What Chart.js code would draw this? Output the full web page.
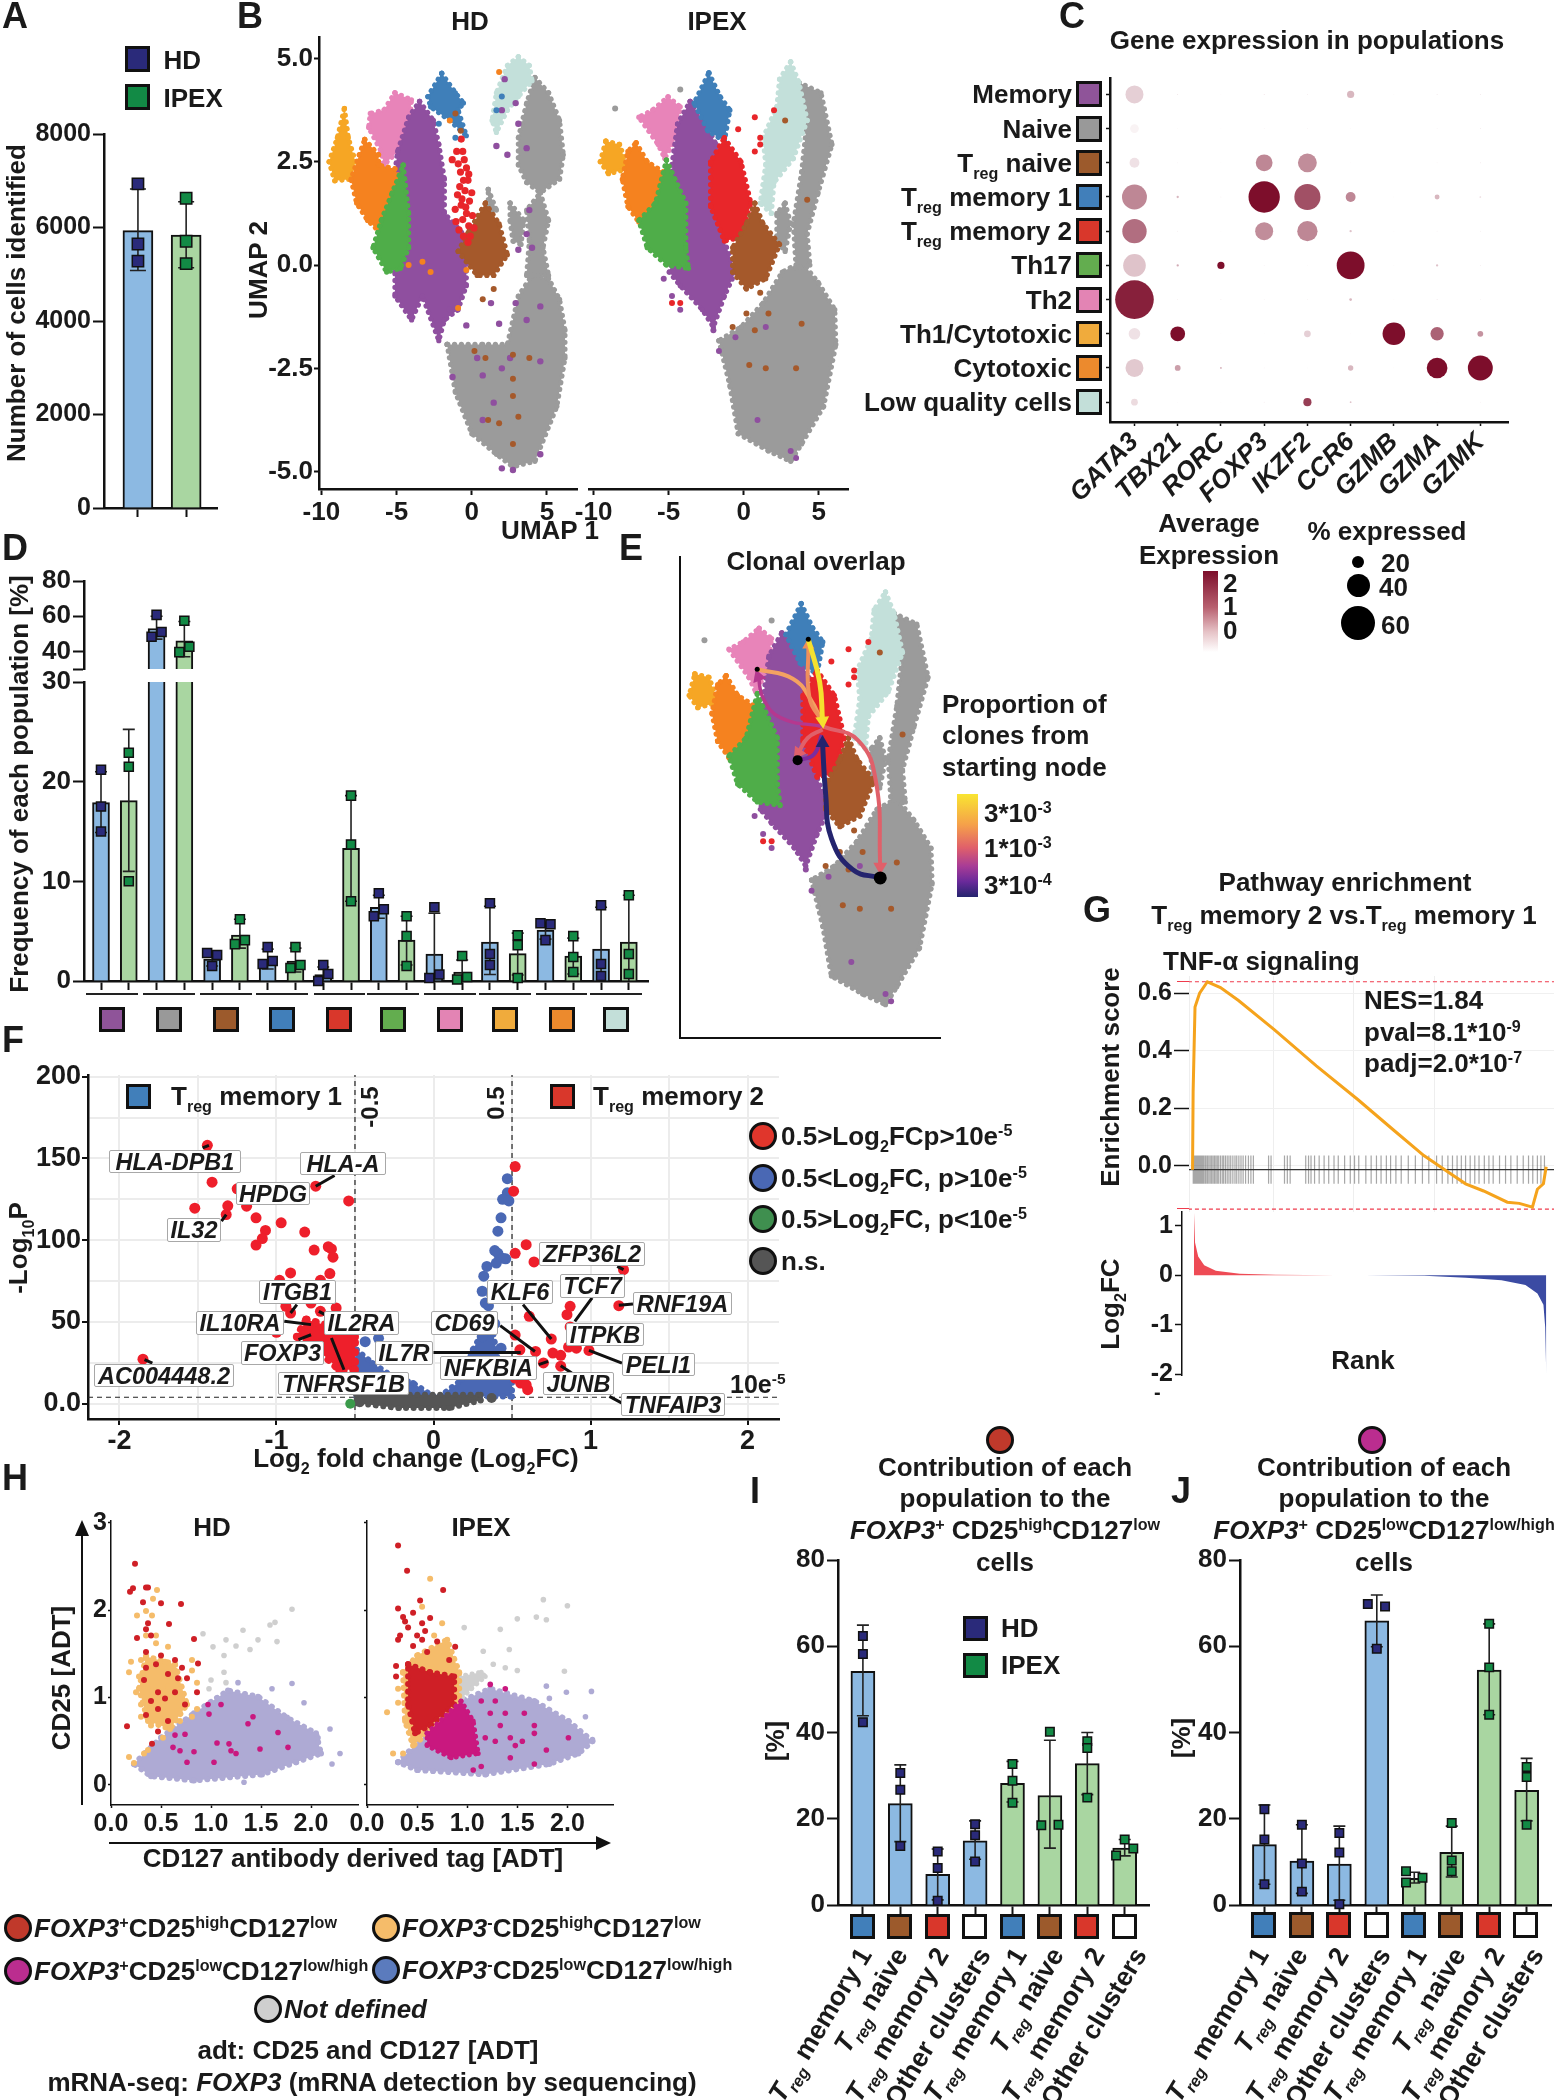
<!DOCTYPE html>
<html>
<head>
<meta charset="utf-8">
<title>Figure</title>
<script src="https://cdn.jsdelivr.net/npm/chart.js"></script>
<style>
body { margin: 0; background: #fff; }
#page { position: relative; width: 1554px; height: 2100px; overflow: hidden; font-family: "Liberation Sans", Arial, sans-serif; font-weight: bold; color: #1a1a1a; }
.t { position: absolute; white-space: nowrap; z-index: 5; line-height: 1; }
.box { position: absolute; box-sizing: border-box; z-index: 4; }
sub { font-size: .62em; vertical-align: -.42em; line-height: 0; }
sup { font-size: .62em; vertical-align: .55em; line-height: 0; }
canvas { position: absolute; }
</style>
</head>
<body>
<div id="page"></div>
<script>
// ---- colours
const C_HD = "#2a2a7a", C_IPEX = "#128a45", C_HDBAR = "#8cb9e2", C_IPEXBAR = "#a9d6a1";
const POP = { memory: "#8f4f9f", naive: "#9b9b9b", tnaive: "#a5592b", tm1: "#3f7fb9", tm2: "#e8262a", th17: "#4fad49", th2: "#e884b9", th1: "#f6a624", cyto: "#f5821f", low: "#c3e0da" };
const SQ = { memory: "#8f5499", naive: "#999999", tnaive: "#9c5a2c", tm1: "#417fba", tm2: "#d9372b", th17: "#63ad4f", th2: "#e384b4", th1: "#f0ab3c", cyto: "#ec8a2d", low: "#c3dfd9", other: "#ffffff" };

// ---- panel A
const aMeans = [5934, 5838];
const aHi = [6824, 6551];
const aLo = [5081, 5140];
const aPts = [[[6934, 0], [5647, 0], [5279, 0]], [[6625, 0], [5706, 0], [5228, 0]]];

// ---- panel D (HD, IPEX alternating for the ten populations)
const dMeans = [17.9, 18.1, 53, 46, 2.2, 4.6, 2.1, 2, 0.65, 13.3, 7.4, 4.1, 2.7, 0.9, 3.9, 2.75, 5.1, 2.5, 3.2, 3.9];
const dHi = [21, 25.25, 60, 57, 2.9, 6.2, 3.2, 3.3, 1.4, 18.6, 8.6, 6.5, 6.8, 2.1, 7.5, 4.8, 5.9, 4.3, 7.4, 8.6];
const dLo = [14.9, 11, 47, 37, 1.5, 3.3, 1.2, 0.9, -0.1, 8, 6.3, 1.6, -1, -0.3, 0.65, 0.6, 4.2, 0.7, -1, -0.8];
const dPts = [
  [[21.2, 0], [17.5, 0], [15, 0]], [[22.9, 0], [21.5, 0], [10, 0]],
  [[60.75, 0], [51, 0.18], [48.3, -0.18]], [[57.4, 0], [42.6, 0.18], [39.6, -0.18]],
  [[2.8, -0.18], [2.6, 0.18], [1.5, 0]], [[6.2, 0], [4.1, 0.18], [3.7, -0.18]],
  [[3.4, 0], [2, 0.18], [1.7, -0.18]], [[3.4, 0], [1.6, 0.18], [1.3, -0.18]],
  [[1.6, 0], [0.7, 0.18], [0, -0.18]], [[18.6, 0], [13.7, 0], [8, 0]],
  [[8.8, 0], [7.2, 0.18], [6.5, -0.18]], [[6.5, 0], [4.5, 0], [1.5, 0]],
  [[7.4, 0], [0.65, 0.18], [0.3, -0.18]], [[2.5, 0], [0.4, 0.18], [0.15, -0.18]],
  [[7.8, 0], [2.7, 0], [1.6, 0]], [[4.6, 0], [3.6, 0], [0.3, 0]],
  [[5.8, -0.18], [5.7, 0.18], [4.1, 0]], [[4.5, 0], [2.4, 0], [0.9, 0]],
  [[7.6, 0], [1.7, 0], [0.5, 0]], [[8.6, 0], [2.7, 0], [0.7, 0]]
];
const dSquares = ["memory", "naive", "tnaive", "tm1", "tm2", "th17", "th2", "th1", "cyto", "low"];

// ---- panels I and J
const iMeans = [54.2, 23.5, 7.1, 14.9, 28.2, 25.4, 32.8, 13.2];
const iHi = [64.9, 32.5, 13, 19.5, 33.3, 38.2, 40, 15.2];
const iLo = [43.9, 14.7, 1.2, 10.6, 23.9, 13.2, 25.6, 11.4];
const iPts = [
  [[62.4, 0], [58.2, 0], [42.4, 0]], [[30.6, 0], [26.7, 0], [13.7, 0]], [[12.4, 0], [8.6, 0], [1, 0]], [[18.7, 0], [16.2, 0], [10.1, 0]],
  [[32.7, 0], [28.8, 0], [23.7, 0]], [[40.2, 0], [18.5, -0.23], [18.6, 0.23]], [[38, 0], [36.4, 0], [24.9, 0]], [[15.2, 0], [13.1, 0.23], [11.5, -0.23]]
];
const jMeans = [14, 10.2, 9.5, 65.9, 6.2, 12.2, 54.5, 26.6];
const jHi = [23.2, 18.6, 18.3, 71.9, 7.6, 18.3, 65.2, 34];
const jLo = [4.8, 2.7, 1.1, 59.9, 5.1, 6.5, 44.1, 19.5];
const jPts = [
  [[22.2, 0], [15.2, 0], [4.8, 0]], [[18.6, 0], [9.6, 0], [3.1, 0]], [[16.7, 0], [12.2, 0], [0.2, 0]], [[69.8, -0.24], [69.2, 0.22], [59.4, 0]],
  [[7.8, -0.22], [5.2, -0.22], [6.3, 0.22]], [[19, 0], [10.3, 0], [7.8, 0]], [[65.2, 0], [55.1, 0], [44.1, 0]], [[32, 0], [29.7, 0], [18.6, 0]]
];
const ijSquares = ["tm1", "tnaive", "tm2", "other", "tm1", "tnaive", "tm2", "other"];

// ---- panel C
const genes = ["GATA3", "TBX21", "RORC", "FOXP3", "IKZF2", "CCR6", "GZMB", "GZMA", "GZMK"];
const rowKeys = ["memory", "naive", "tnaive", "tm1", "tm2", "th17", "th2", "th1", "cyto", "low"];
const rowNames = ["Memory", "Naive", "T<sub>reg</sub> naive", "T<sub>reg</sub> memory 1", "T<sub>reg</sub> memory 2", "Th17", "Th2", "Th1/Cytotoxic", "Cytotoxic", "Low quality cells"];
const pctExpressed = [
  [31, 1, .5, 1, 1, 12.4, .2, 1, 1],
  [15, .3, .3, .5, .8, .3, 0, .5, 1],
  [17, .7, .3, 29, 32.5, .5, 0, .3, 1],
  [43, 4, .7, 54, 45, 17, .2, 8.5, 3],
  [42, .8, .3, 31, 35, 4, .3, .5, .8],
  [39, 4, 12.4, 1, .5, 48, .3, 4, 1],
  [66.6, 1, 1, 1, 1.5, 4.6, .3, 1.5, .8],
  [20, 25.5, .3, .3, 11.6, .3, 39, 23, 10],
  [31, 10, 3, 1, 1, 9.3, .3, 35.6, 43],
  [11.6, .3, .3, 1, 14, 3, 0, .3, .5]
];
const avgExpression = [
  [.4, .5, .1, .5, .3, .6, .1, .4, .4],
  [.1, .1, .1, .2, .2, .1, 0, .2, .4],
  [.25, .2, .1, 1, .95, .1, 0, .2, .4],
  [1, .6, .2, 2, 1.45, 1, .1, .6, .3],
  [1.2, .3, .1, .95, 1, .5, .1, .2, .3],
  [.5, .7, 2, .2, .1, 2, .1, .5, .3],
  [1.85, .3, .3, .2, .2, .6, .1, .4, .2],
  [.25, 2, .1, .1, .4, .1, 2, 1.3, .9],
  [.45, .8, .7, .2, .1, .6, .1, 2, 2],
  [.3, .1, .1, .3, 1.6, .5, 0, .1, .2]
];

// ---- panel B, outlines of the clusters (UMAP units)
const hdNaiveLow = [[-1.64, -1.92], [-1.09, -3.08], [0, -4.08], [1.64, -4.58], [2.74, -4.88], [4.2, -4.75], [5.66, -3.42], [6.2, -2.25], [6.2, -1.58], [5.84, -.83], [5.11, -.33], [4.01, -.25], [3.1, -.75], [2.37, -1.92], [.73, -1.92]];
const hdNaiveUp = [[4.2, 4.54], [5.11, 4.17], [5.84, 3.5], [6.09, 2.67], [5.84, 2.08], [4.56, 1.75], [3.65, 2], [3.1, 2.42], [3.1, 3.08], [3.65, 3.92]];
const hdNaiveMid = [[4.56, 1.75], [5.11, 1.08], [4.74, .42], [5.11, -.25], [3.65, -.25], [3.83, .58], [3.65, 1.33]];
const hdNaiveMid2 = [[2.55, 1.5], [3.47, 1.08], [3.28, .5], [2.74, .58], [2.55, 1.08]];
const hdNaiveMid3 = [[1.1, 1.83], [1.64, 1.33], [1.1, 1.2]];
const hdLow = [[3.1, 5.04], [3.83, 4.83], [4.01, 4.46], [3.1, 4.08], [2.37, 3.75], [1.64, 3.21], [1.35, 3.5], [1.64, 4.17], [2.37, 4.83]];
const hdBlue = [[-2, 4.64], [-1.09, 4.17], [-.55, 3.92], [-.91, 3.75], [-.36, 3.13], [-1.46, 3.5], [-2.74, 3.83], [-2.92, 4.08]];
const hdPink = [[-5.11, 4.17], [-4.01, 4], [-4.2, 3.08], [-4.93, 2.75], [-5.84, 2.42], [-6.02, 2.75], [-6.86, 3.33], [-6.75, 3.67], [-5.84, 3.75]];
const hdPurple = [[-3.47, 3.96], [-2.55, 3.5], [-2.19, 2.92], [-1.82, 2.08], [-1.82, 1.25], [-.36, .67], [-.36, -.5], [-.91, -1.08], [-1.82, -1.33], [-2.19, -1.83], [-3.28, -.75], [-4, -1.33], [-5.11, -.75], [-5.11, -.17], [-4.2, .42], [-5.11, 2.25], [-4.93, 2.75], [-4.2, 3.58]];
const hdOrange = [[-7.12, 3.04], [-6.2, 2.67], [-6.2, 2.42], [-5.11, 2.33], [-4.56, 1.92], [-5.47, 1.42], [-6.2, .83], [-6.93, 1.08], [-7.66, 1.5], [-8.03, 2.08], [-7.48, 2.67]];
const hdYellow = [[-8.47, 3.79], [-8.21, 3.08], [-7.74, 2.5], [-8.03, 2.08], [-9.12, 2.04], [-9.49, 2.5], [-8.94, 3.08]];
const hdGreen = [[-4.56, 2.42], [-4.2, 1.25], [-4.2, .42], [-4.74, -.08], [-5.66, -.17], [-6.57, .42], [-6.02, 1.08], [-5.29, 1.75]];
const hdBrown = [[.91, 1.5], [1.82, 1], [2.37, .25], [1.46, -.25], [.36, -.25], [-.91, .33], [-.18, .83]];
const hdRedDots = [[-1, 2.75], [-.6, 2.75], [-1.3, 2.55], [-.9, 2.45], [-.5, 2.55], [-.75, 2.25], [-.35, 2.35], [-.55, 2.05], [-.25, 2.05], [-.8, 1.9], [-.95, 1.7], [-.45, 1.8], [0, 1.75], [-.15, 1.55], [-.7, 1.45], [-1.1, 1.35], [-.35, 1.25], [.05, 1.2], [-.6, 1.1], [-1.05, 1.05], [-.2, .95], [.15, .9], [-.55, .7], [-.25, .55], [-.85, .85], [-.1, .7], [-.65, 1.6], [-.2, 2.2], [-.7, 3.05], [-.4, 1.4]];
const hdPurpleDots = [[-1.46, -1.08], [-.36, -1.46], [1.28, -.92], [1.82, -1.42], [2.92, -.92], [3.65, -1.33], [4.56, -1], [4.56, -2.33], [2.55, -2.25], [.36, -2.25], [.73, -2.67], [2, -2.5], [1.46, -3.33], [.73, -3.75], [2, -4.92], [2.74, -4.96], [4.56, -4.58], [-1.28, -2.71], [3.65, .75], [4.01, .42], [3.83, 1.33], [3.1, .37], [1.64, 2.88], [2.37, 2.67], [3.65, 2.83], [2.19, 4.5], [2.92, 3.92], [3.1, 3.42], [2, 3.75]];
const hdBrownDots = [[.18, -2.08], [.91, -2.25], [2.74, -2.17], [2.74, -2.75], [2.74, -3.17], [1.09, -3.75], [1.82, -3.83], [2.74, -4.33], [3.1, -3.67], [3.83, -2.25], [1.46, -.58], [.73, -.83], [-.73, 3.25], [-1.09, 3.67]];
const hdOrangeDots = [[-3.28, .08], [-4.2, 0], [-2.74, -.17], [-.36, -.12], [-.91, -1.04], [1.82, 4.67], [-1.46, 3.5]];
const hdBlueDots = [[1.64, 3.75], [2, 4.08], [-2.19, 3.42], [-1.09, 3.08]];

const ipNaiveLow = [[-1.65, -1.83], [-.92, -2.92], [-.37, -4.08], [1.65, -4.5], [3.13, -4.75], [3.86, -4.33], [5.33, -3.42], [6.14, -1.92], [6.07, -1.08], [4.96, -.42], [3.86, .08], [2.57, -.17], [1.29, -.92], [-.18, -1.5]];
const ipNaiveUp = [[3.68, 4.42], [5.15, 4.17], [5.88, 2.92], [4.96, 1.75], [4.23, .75], [4.41, 0], [3.49, -.08], [3.31, 1], [3.86, 2.25], [4.23, 3.5]];
const ipNaiveMid = [[2.76, 1.5], [3.13, 1], [2.76, .33], [2.21, .58], [2.21, 1.25]];
const ipLow = [[3.13, 4.92], [3.68, 4.42], [4.23, 3.5], [3.31, 2.58], [2.02, 2], [1.84, 1.25], [1.1, 1.5], [1.47, 2.42], [1.29, 3.08], [2.21, 3.83], [2.39, 4.5]];
const ipBlue = [[-2.32, 4.65], [-1.58, 4.08], [-.92, 3.75], [-1.29, 3], [-2.39, 3.25], [-3.31, 3.92]];
const ipPink = [[-5.04, 4.07], [-4.23, 3.83], [-4.52, 3.08], [-5.26, 2.58], [-5.7, 2.92], [-6.99, 3.58], [-6.07, 3.75]];
const ipPurple = [[-3.57, 3.96], [-2.39, 3.33], [-1.84, 2.92], [-2.21, 1.42], [-1.29, .58], [-.55, -.17], [-1.29, -.75], [-2.02, -1.5], [-2.76, -1.08], [-4.23, -.5], [-4.96, -.17], [-4.41, .58], [-4.78, 2.42], [-4.41, 3.42]];
const ipOrange = [[-7.17, 2.96], [-6.43, 2.5], [-5.33, 2.25], [-5.88, 1.5], [-6.99, 1.04], [-7.72, 1.42], [-8.09, 2.08], [-7.72, 2.75]];
const ipYellow = [[-9.19, 3], [-8.27, 2.92], [-7.72, 2.33], [-9.01, 2.21], [-9.56, 2.5]];
const ipGreen = [[-5.15, 2.54], [-3.86, 1.5], [-3.86, .42], [-3.68, -.08], [-5.15, 0], [-6.43, .42], [-6.99, 1.08], [-5.88, 1.5]];
const ipRed = [[-1.29, 3.08], [-.18, 2.5], [.48, 1.5], [-.18, .67], [-1.29, .58], [-2.21, 1.42], [-2.21, 2.5]];
const ipBrown = [[.74, 1.5], [1.29, 1], [2.39, .5], [1.47, -.33], [.18, -.58], [-.74, -.17], [-.74, .42], [.18, 1]];
const ipRedDots = [[-.37, 3.29], [.74, 3.58], [1.1, 2.92], [.74, 2.75], [1.1, 3.08], [2.02, 3.75], [-4.23, -.92], [-4.78, -.92]];
const ipBrownDots = [[-.74, -1.5], [.18, -1.17], [1.65, -1.17], [.74, -1.58], [3.49, -2.5], [1.47, -2.5], [1.1, -.67], [.37, -2.42], [3.86, -1.42], [4.23, 1.58], [2.76, 3.5]];
const ipPurpleDots = [[-5.33, -.33], [-4.78, -.75], [-4.23, -1.08], [-1.65, -2.08], [-.55, -1.75], [.92, -3.75], [3.49, -4.67], [1.47, -1.5], [3.13, -4.5], [-2.02, -1.58]];
const ipGrayDots = [[-8.57, 3.79], [-4.23, 4.25]];

// ---- panel E, clonal trajectories in UMAP units
const trajNavy = [[2.79, -1.78], [.99, -1.58], [-.36, -.86], [-.74, .19], [-.94, 1.38]];
const trajCoral = [[-.94, 1.77], [1.37, 1.44], [2.52, .46], [2.79, -1.52]];
const trajCoral2 = [[-.94, 1.7], [-1.9, 1.5], [-2.5, 1.15]];
const trajOrange = [[-.99, 1.9], [-1.78, 2.43], [-1.86, 3.68]];
const trajOrange2 = [[-5.16, 3.11], [-2.86, 2.89], [-1.7, 2.4], [-.94, 1.84]];
const trajMagenta = [[-.94, 1.77], [-3.63, 1.97], [-4.78, 2.43], [-5.08, 2.93]];
const trajPurple = [[-2.55, .98], [-1.51, 1.11], [-.99, 1.57]];
const trajYellow = [[-1.86, 3.81], [-1.13, 2.82], [-.94, 1.9]];
const trajStarts = [[-2.55, .98], [2.79, -1.78], [-5.16, 3.11], [-1.86, 3.81]];

// ---- panel F
const vRed = [[-1.44, 158], [-1.41, 135.5], [-1.25, 131.4], [-.75, 133], [-.54, 124], [-1.52, 119.6], [-1.31, 121], [-1.19, 120.8], [-1.32, 115.7], [-1.13, 113.7], [-.97, 110.6], [-1.07, 106], [-.82, 105], [-1.09, 101], [-1.13, 97], [-.76, 94], [-.67, 96], [-.65, 94.7], [-.64, 89.6], [-.91, 80], [-.66, 79.6], [-.98, 75.5], [-.72, 75.5], [-.94, 59.6], [-.91, 55.5], [-.72, 56.5], [-.62, 58.6], [-.78, 61.6], [-1, 43.7], [-1.85, 27.3],
  [.52, 145], [.51, 130], [.59, 97.3], [.52, 92], [.64, 86.7], [1.21, 82], [1.18, 60], [.87, 59.6], [.85, 54.5], [.87, 47], [.61, 53.5], [.75, 39.6], [.52, 42], [.86, 34.7], [.91, 34], [.99, 32.6], [.55, 33], [.65, 32], [.76, 31], [.81, 29.6], [.7, 25], [.81, 23], [.6, 8.6], [.555, 12.7], [.52, 15.7], [.59, 11.6]];
const vRedArea = [[-.81, 51.4], [-.65, 47.3], [-.5, 41], [-.5, 20.8], [-.6, 20.8], [-.78, 37], [-.87, 41]];
const vBlue = [[.47, 137.6], [.47, 129], [.44, 125], [.48, 124], [.43, 113.7], [.41, 105.5], [.39, 93.7], [.41, 92], [.46, 88.6], [.44, 89], [.34, 84], [.4, 86], [.32, 78], [.31, 68.8], [.33, 61.6], [.35, 60], [.37, 66.7], [.39, 49], [.31, 41], [.43, 34], [-.435, 38], [-.35, 40]];
const vBlueRight = [[.04, 4.5], [.18, 14.7], [.25, 33], [.31, 43.3], [.38, 43.3], [.41, 27], [.5, 14.7], [.5, 4.5]];
const vBlueLeft = [[-.49, 33], [-.39, 25], [-.26, 16.7], [-.13, 12.7], [0, 4.5], [-.49, 4.5]];
const vGray = [[-.49, 5.5], [.3, 5.5], [.3, 2], [.1, -2.6], [-.22, -2.6], [-.49, .4]];
const vGrayDots = [[.37, 3.5], [-.47, 1]];
const vGreen = [[-.53, 0]];
const vConnectors = [[-1.47, 156.5, -1.43, 158], [-.75, 133, -.63, 139.6], [-1.35, 111.6, -1.32, 115.7], [-.91, 55.5, -.87, 60.6], [-.78, 48.4, -.95, 50.4], [-.86, 39.2, -.78, 42.2], [-.73, 56.5, -.69, 54.5], [-.65, 40.2, -.57, 20.8], [-1.84, 27, -1.79, 24.9], [0, 31.4, .555, 31.4], [.425, 47.8, .646, 32], [.57, 60.6, .75, 39.6], [1.01, 64.7, .9, 50.4], [1.17, 84, 1.21, 82], [1.18, 60.2, 1.27, 61], [.99, 32.7, 1.2, 24.9], [.67, 23.9, .73, 25.9], [.81, 23.3, .88, 18.8], [1.12, 4.5, 1.2, .4]];

// ---- panel G
const esRank = [0, 1.7, 7, 20, 42, 79, 130, 231, 350, 468, 569, 654, 713, 772, 823, 890, 924, 961, 975, 992, 1000];
const esValue = [-.013, .26, .552, .6, .64, .62, .575, .474, .348, .23, .124, .036, -.013, -.062, -.087, -.126, -.13, -.143, -.081, -.062, -.003];
const hitRanks = [2, 4, 6, 8, 10, 13, 16, 19, 22, 25, 28, 31, 35, 38, 42, 46, 50, 54, 58, 62, 66, 70, 74, 79, 84, 88, 93, 98, 103, 108, 114, 120, 125, 131, 137, 143, 150, 158, 165, 172, 215, 222, 260, 268, 276, 320, 328, 335, 345, 358, 372, 385, 400, 412, 430, 446, 458, 470, 490, 505, 520, 533, 548, 560, 575, 590, 610, 630, 650, 668, 690, 706, 722, 735, 748, 760, 772, 785, 798, 810, 825, 838, 850, 868, 885, 900, 918, 935, 950, 962, 975, 985, 995];
const fcUpRank = [0, 3, 12, 29, 62, 130, 231, 400];
const fcUp = [1.28, .66, .38, .2, .09, .03, .01, 0];
const fcDownRank = [485, 654, 772, 873, 941, 975, 992, 997, 1000];
const fcDown = [0, -.01, -.05, -.1, -.2, -.37, -.6, -1.05, -2];

// ---- panel H
const hLeftPurple = [[.23, .24], [.5, .54], [.83, .82], [1.17, 1.08], [1.47, 1.01], [1.76, .77], [2.05, .59], [2.1, .36], [1.85, .26], [1.51, .12], [.83, .05], [.4, .1]];
const hLeftOrangeCore = [[.35, 1.47], [.64, 1.38], [.76, .92], [.59, .64], [.37, .73], [.28, 1.1]];
const hLeftRed = [[.24, 2.53], [.19, 2.21], [.22, 2.25], [.35, 2.26], [.37, 2.26], [.32, 2.09], [.5, 2.08], [.7, 2.07], [.37, 1.85], [.58, 1.84], [.83, 1.67], [.26, 1.68], [.35, 1.52], [.5, 1.48], [.64, 1.43], [.87, 1.39], [.35, 1.34], [.57, 1.27], [.67, 1.22], [.33, 1.2], [.47, 1.06], [.4, .96], [.54, .99], [.64, 1.06], [.47, .87], [.74, .92], [.86, 1.06], [.16, .67], [.47, .61], [.41, .47], [.57, .73], [.35, .8], [.76, 1.22], [.45, 1.38], [.71, 1.34], [.4, 1.71], [.35, 1.78]];
const hLeftOrange = [[.46, 2.23], [.26, 1.94], [.41, 1.94], [.35, 1.71], [.45, 1.62], [.57, 1.58], [.2, 1.41], [.3, 1.43], [.18, 1.29], [.28, 1.24], [.54, 1.41], [.81, 1.43], [.81, 1.31], [.64, 1.31], [.86, 1.17], [.25, 1.06], [.37, 1.13], [.57, 1.13], [.71, 1.01], [.3, .92], [.52, .89], [.69, .82], [.81, .78], [.86, .87], [.3, .78], [.59, .68], [.69, .73], [.4, .68], [.37, .4], [.33, .36], [.18, .32], [.23, .25], [.52, .54], [.45, 1.71], [.35, 1.99], [.42, 2.13]];
const hLeftGray = [[1.81, 2.01], [.92, 1.73], [1.02, 1.58], [1.15, 1.66], [1.32, 1.77], [1.59, 1.83], [1.64, 1.86], [1.47, 1.66], [1.66, 1.64], [1.25, 1.59], [1.39, 1.55], [1.13, 1.48], [1.13, 1.29], [1, 1.2], [.98, 1.1], [1.15, 1.17]];
const hLeftMagenta = [[.97, .92], [1.1, .92], [.98, .81], [1.37, .7], [1.67, .6], [.74, .58], [1.06, .48], [1.18, .47], [1.2, .39], [1.25, .36], [1.49, .41], [1.77, .43], [.62, .43], [.69, .39], [.83, .38], [.76, .26], [1.03, .26], [.64, .57], [1.42, .78]];
const hLeftPurpleDots = [[1.81, 1.16], [2.19, .64], [2.29, .36], [2.21, .24], [1.27, 1.17], [1.61, 1.1], [1.93, .94], [2.07, .54], [1.33, .03]];
const hRightPurple = [[.31, .26], [.6, .59], [.94, .96], [1.23, 1.1], [1.67, .96], [2.01, .73], [2.25, .5], [2.11, .36], [1.82, .24], [1.18, .12], [.5, .17]];
const hRightOrangeArea = [[.36, 1.29], [.5, 1.48], [.8, 1.66], [.92, 1.29], [.92, .92], [.6, .59], [.46, .45], [.38, .73]];
const hRightRedArea = [[.41, 1.38], [.63, 1.29], [.87, 1.24], [.87, .92], [.63, .68], [.48, .59], [.41, .92]];
const hRightGrayArea = [[.92, 1.24], [1.14, 1.29], [1.18, 1.24], [1.04, 1.1], [.92, .96]];
const hRightMagentaArea = [[.6, .59], [.94, .96], [1.06, .73], [1.11, .36], [.84, .31], [.6, .45]];
const hRightRed = [[.31, 2.74], [.4, 2.45], [.76, 2.23], [.31, 2.02], [.53, 2.11], [.36, 1.92], [.46, 1.97], [.55, 1.85], [.63, 1.91], [.31, 1.66], [.41, 1.8], [.58, 1.76], [.7, 1.64], [.88, 1.58], [.29, 1.36], [.46, 1.59], [.6, 1.52], [.82, 1.43], [.29, 1.24], [.33, 1.71], [.38, 1.87], [.5, 1.71], [.55, 1.66]];
const hRightOrange = [[.63, 2.36], [.2, .83], [.26, .36], [.36, .36], [.31, .94], [.75, 1.85], [.67, 1.71], [.31, 1.1], [.55, 2.04]];
const hRightGray = [[1.76, 2.12], [2, 2.05], [.97, 1.8], [1.5, 1.9], [1.33, 1.78], [1.69, 1.92], [1.79, 1.89], [1.42, 1.55], [1.16, 1.53], [1.97, 1.3], [1.5, 1.31], [1.38, 1.34], [1.26, 1.38]];
const hRightMagenta = [[1.14, .96], [1.23, 1.15], [1.38, 1.1], [1.57, .82], [1.67, .68], [2.01, .54], [1.67, .59], [1.23, .82], [1.33, .68], [1.43, .54], [1.55, .5], [1.79, .4], [1.67, .24], [1.43, .31], [1.14, .21], [1.06, .17], [1.28, .5], [1.18, .54], [1.48, .45], [1.28, .96], [1.38, .82]];
const hRightPurpleDots = [[2.24, 1.07], [1.79, 1.13], [2.18, .78], [2.25, .52], [1.99, 1.06], [1.82, .99]];

// ---- helpers
const page = document.getElementById("page");
const INK = "#1a1a1a";
Chart.defaults.font.family = '"Liberation Sans", Arial, sans-serif';
Chart.defaults.font.weight = "bold";
Chart.defaults.color = INK;
Chart.defaults.animation = false;
Chart.defaults.plugins.legend.display = false;
Chart.defaults.plugins.tooltip.enabled = false;

function T(x, y, html, size, opt) {
  opt = opt || {};
  const d = document.createElement("div");
  d.className = "t";
  d.innerHTML = html;
  const ax = opt.a === "c" ? "-50%" : opt.a === "r" ? "-100%" : "0";
  const rot = opt.rot ? " rotate(" + opt.rot + "deg)" : "";
  d.style.left = x + "px";
  d.style.top = y + "px";
  d.style.fontSize = size + "px";
  if (opt.weight) d.style.fontWeight = opt.weight;
  if (opt.style) d.style.fontStyle = opt.style;
  if (opt.origin) d.style.transformOrigin = opt.origin;
  d.style.transform = "translate(" + ax + ",-50%)" + rot;
  page.appendChild(d);
  return d;
}
function sq(cx, cy, w, h, color, bw) {
  const d = document.createElement("div");
  d.className = "box";
  d.style.cssText += `left:${cx - w / 2}px;top:${cy - h / 2}px;width:${w}px;height:${h}px;background:${color};border:${bw === undefined ? 3 : bw}px solid #111;`;
  page.appendChild(d);
  return d;
}
function circle(cx, cy, d, color, bw) {
  const e = sq(cx, cy, d, d, color, bw === undefined ? 3 : bw);
  e.style.borderRadius = "50%";
  return e;
}
function rect(l, t, w, h, bg) {
  const d = document.createElement("div");
  d.className = "box";
  d.style.cssText += `left:${l}px;top:${t}px;width:${w}px;height:${h}px;background:${bg};`;
  page.appendChild(d);
  return d;
}
// puts a chart so that its plot area lands on the given box
function addChart(area, m, config) {
  const c = document.createElement("canvas");
  const w = Math.round(area.r - area.l + m.l + m.r), h = Math.round(area.b - area.t + m.t + m.b);
  c.width = w; c.height = h;
  c.style.left = Math.round(area.l - m.l) + "px";
  c.style.top = Math.round(area.t - m.t) + "px";
  c.style.width = w + "px";
  c.style.height = h + "px";
  page.appendChild(c);
  const o = config.options;
  o.responsive = false;
  o.layout = { autoPadding: false, padding: { left: 0, right: m.r, top: m.t, bottom: 0 } };
  function noPad(s) { s.paddingLeft = s.paddingRight = s.paddingTop = s.paddingBottom = 0; }
  o.scales.x.afterFit = function (s) { s.height = m.b; noPad(s); };
  o.scales.y.afterFit = function (s) { s.width = m.l; noPad(s); };
  return new Chart(c, config);
}
function xy(list) { return list.map(function (p) { return { x: p[0], y: p[1] }; }); }
// filled outline, its edge is stroked as a row of round dots
function area(list, color, r) {
  const rad = r === undefined ? 2.6 : r;
  return { type: "scatter", data: xy(list.concat([list[0]])), showLine: true, fill: "shape", backgroundColor: color, borderColor: color, borderWidth: rad * 2, borderDash: [.1, rad * 2 + 1.5], borderCapStyle: "round", pointRadius: rad, pointBackgroundColor: color, pointBorderWidth: 0, clip: false };
}
function dots(list, color, r) {
  return { type: "scatter", data: xy(list), showLine: false, backgroundColor: color, pointRadius: r, pointBorderWidth: 0, clip: false };
}
function segs(list) {
  const out = [];
  list.forEach(function (s) { out.push({ x: s[0], y: s[1] }, { x: s[2], y: s[3] }, { x: s[2], y: null }); });
  return out;
}
function axisLine(extra) { return Object.assign({ color: "#111", width: 2.5 }, extra || {}); }

function errorBars(means, hi, lo, idx, capW, yMin, yMax) {
  return {
    id: "errBars",
    afterDatasetDraw: function (chart, args) {
      if (args.index !== idx) return;
      const sx = chart.scales.x, sy = chart.scales.y, ctx = chart.ctx;
      ctx.save();
      ctx.strokeStyle = "#222";
      ctx.lineWidth = 1.6;
      means.forEach(function (m, i) {
        if (m <= yMin) return;
        const px = sx.getPixelForValue(i);
        const a = Math.min(hi[i], yMax), b = Math.max(lo[i], yMin);
        if (b >= yMax) return;
        ctx.beginPath();
        ctx.moveTo(px, sy.getPixelForValue(a));
        ctx.lineTo(px, sy.getPixelForValue(b));
        if (hi[i] <= yMax) { ctx.moveTo(px - capW, sy.getPixelForValue(a)); ctx.lineTo(px + capW, sy.getPixelForValue(a)); }
        if (lo[i] >= yMin) { ctx.moveTo(px - capW, sy.getPixelForValue(b)); ctx.lineTo(px + capW, sy.getPixelForValue(b)); }
        ctx.stroke();
      });
      ctx.restore();
    }
  };
}
function barPanel(box, m, c) {
  const barX = [], barC = [];
  const ptData = [], ptC = [];
  c.means.forEach(function (v, i) {
    if (v <= c.yMin) return;
    barX.push({ x: i, y: v });
    barC.push(c.isHd(i) ? C_HDBAR : C_IPEXBAR);
  });
  c.pts.forEach(function (set, i) {
    set.forEach(function (p) {
      if (p[0] < c.yMin || p[0] > c.yMax) return;
      ptData.push({ x: i + p[1], y: p[0] });
      ptC.push(c.isHd(i) ? C_HD : C_IPEX);
    });
  });
  const xAxis = c.hideX ?
    { type: "linear", offset: false, min: c.xMin, max: c.xMax, border: { display: false }, grid: { offset: false, display: false }, ticks: { display: false } } :
    { type: "linear", offset: false, min: c.xMin, max: c.xMax, border: axisLine(), grid: { offset: false, drawOnChartArea: false, tickLength: 9, tickColor: "#111", tickWidth: 2 }, ticks: { stepSize: 1, includeBounds: false, autoSkip: false, callback: function () { return ""; } } };
  return addChart(box, m, {
    type: "scatter",
    data: {
      datasets: [
        { type: "scatter", data: ptData, pointStyle: "rect", pointRadius: c.ptR, pointBackgroundColor: ptC, pointBorderColor: "#111", pointBorderWidth: 1.5, clip: false },
        { type: "bar", data: barX, backgroundColor: barC, borderColor: "#111", borderWidth: 2, barThickness: c.barW, grouped: false }
      ]
    },
    plugins: [errorBars(c.means, c.hi, c.lo, 1, c.capW, c.yMin, c.yMax)],
    options: {
      scales: {
        x: xAxis,
        y: { type: "linear", min: c.yMin, max: c.yMax, border: axisLine(), grid: { drawOnChartArea: false, tickLength: 11, tickColor: c.tickColor || "#111", tickWidth: 2 }, ticks: { stepSize: c.yStep, padding: 2, autoSkip: false, includeBounds: false, font: { size: c.tick || 26 }, callback: c.fmt || function (v) { return v; } } }
      }
    }
  });
}

// ---- panel letters
[["A", 2, 16], ["B", 237, 16], ["C", 1059, 16], ["D", 2, 548], ["E", 619, 548], ["F", 2, 1040], ["G", 1083, 910], ["H", 2, 1478], ["I", 750, 1491], ["J", 1171, 1491]].forEach(function (l) {
  T(l[1], l[2], l[0], 36);
});

// ---- A
barPanel({ l: 104, t: 134, r: 217, b: 508 }, { l: 72, t: 15, r: 5, b: 16 }, {
  means: aMeans, hi: aHi, lo: aLo, pts: aPts, isHd: function (i) { return i === 0; },
  xMin: -.704, xMax: 1.64, yMin: 0, yMax: 8000, yStep: 2000, barW: 30, ptR: 8, capW: 8, tick: 25
});
sq(137.5, 59, 25, 26, C_HD);
sq(137.5, 97, 25, 26, C_IPEX);
T(163.5, 60, "HD", 26);
T(163.5, 98, "IPEX", 26);
T(16, 303, "Number of cells identified", 26, { a: "c", rot: -90 });

// ---- B
function umapHd() {
  return [
    dots(hdBlueDots, POP.tm1, 3), dots(hdOrangeDots, POP.cyto, 3), dots(hdBrownDots, POP.tnaive, 3), dots(hdPurpleDots, POP.memory, 3.2), dots(hdRedDots, POP.tm2, 3.6),
    area(hdBrown, POP.tnaive), area(hdBlue, POP.tm1), area(hdGreen, POP.th17), area(hdOrange, POP.cyto), area(hdYellow, POP.th1), area(hdPurple, POP.memory), area(hdPink, POP.th2), area(hdLow, POP.low),
    area(hdNaiveMid3, POP.naive), area(hdNaiveMid2, POP.naive), area(hdNaiveMid, POP.naive), area(hdNaiveUp, POP.naive), area(hdNaiveLow, POP.naive)
  ];
}
function umapIpex() {
  return [
    dots(ipRedDots, POP.tm2, 3), dots(ipBrownDots, POP.tnaive, 3), dots(ipPurpleDots, POP.memory, 3), dots(ipGrayDots, POP.naive, 3),
    area(ipBrown, POP.tnaive), area(ipRed, POP.tm2), area(ipBlue, POP.tm1), area(ipGreen, POP.th17), area(ipOrange, POP.cyto), area(ipYellow, POP.th1), area(ipPurple, POP.memory), area(ipPink, POP.th2), area(ipLow, POP.low),
    area(ipNaiveMid, POP.naive), area(ipNaiveUp, POP.naive), area(ipNaiveLow, POP.naive)
  ];
}
const umapX = { type: "linear", border: axisLine(), grid: { drawOnChartArea: false, tickLength: 6, tickColor: "#111", tickWidth: 2 }, ticks: { stepSize: 5, includeBounds: false, padding: 2, font: { size: 26 }, callback: function (v) { return v; } } };
addChart({ l: 319, t: 37, r: 577, b: 489 }, { l: 75, t: 15, r: 15, b: 42 }, {
  type: "scatter", data: { datasets: umapHd() },
  options: { scales: {
    x: Object.assign({}, umapX, { min: -10.16, max: 7 }),
    y: { type: "linear", min: -5.42, max: 5.52, border: axisLine(), grid: { drawOnChartArea: false, tickLength: 5, tickColor: "#111", tickWidth: 2 }, ticks: { stepSize: 2.5, includeBounds: false, padding: 1, font: { size: 26 }, callback: function (v) { return v.toFixed(1); } } }
  } }
});
addChart({ l: 589, t: 37, r: 848, b: 489 }, { l: 25, t: 15, r: 15, b: 42 }, {
  type: "scatter", data: { datasets: umapIpex() },
  options: { scales: {
    x: Object.assign({}, umapX, { min: -10.31, max: 6.95 }),
    y: { type: "linear", min: -5.42, max: 5.52, border: { display: false }, grid: { display: false }, ticks: { display: false } }
  } }
});
T(470, 21, "HD", 26, { a: "c" });
T(717, 21, "IPEX", 26, { a: "c" });
T(550, 530, "UMAP 1", 26, { a: "c" });
T(258, 270, "UMAP 2", 26, { a: "c", rot: -90 });

// ---- C
const dotData = [];
pctExpressed.forEach(function (row, y) {
  row.forEach(function (p, x) { dotData.push({ x: x, y: y, r: Math.max(p * 0.29, 0.4), e: avgExpression[y][x] }); });
});
function expColour(e) {
  const t = e / 2;
  const mix = function (a, b) { return Math.round(a + (b - a) * t); };
  return "rgb(" + mix(255, 125) + "," + mix(255, 14) + "," + mix(255, 43) + ")";
}
addChart({ l: 1110, t: 78, r: 1508, b: 422 }, { l: 70, t: 5, r: 5, b: 110 }, {
  type: "bubble",
  data: { datasets: [{ data: dotData, clip: false, borderWidth: 0, backgroundColor: function (ctx) { return ctx.raw ? expColour(ctx.raw.e) : "#fff"; } }] },
  options: { scales: {
    x: { type: "linear", min: -.566, max: 8.64, border: axisLine(), grid: { drawOnChartArea: false, tickLength: 4, tickColor: "#111", tickWidth: 1.5 }, ticks: { stepSize: 1, includeBounds: false, autoSkip: false, minRotation: 45, maxRotation: 45, padding: 1, font: { size: 26, style: "italic" }, callback: function (v) { return genes[v]; } } },
    y: { type: "linear", reverse: true, min: -.48, max: 9.58, border: axisLine(), grid: { drawOnChartArea: false, tickLength: 4, tickColor: "#111", tickWidth: 1.5 }, ticks: { stepSize: 1, includeBounds: false, display: true, callback: function () { return ""; } } }
  } }
});
rowNames.forEach(function (n, i) {
  const y = 94.3 + i * 34.2;
  T(1072, y, n, 26, { a: "r" });
  sq(1088.5, y, 26, 26, SQ[rowKeys[i]], 3.5);
});
T(1307, 40, "Gene expression in populations", 26, { a: "c" });
T(1209, 523, "Average", 26, { a: "c" });
T(1209, 555, "Expression", 26, { a: "c" });
rect(1202.5, 571, 15.5, 81, "linear-gradient(#7d0e2b,#b8606f 45%,#e6c2c6 75%,#fff)");
T(1223, 583, "2", 26); T(1223, 606, "1", 26); T(1223, 630, "0", 26);
T(1387, 531, "% expressed", 26, { a: "c" });
circle(1358, 562, 12, "#000", 0); circle(1358, 585, 23, "#000", 0); circle(1358, 623, 34.6, "#000", 0);
T(1381, 563, "20", 26); T(1379, 587, "40", 26); T(1381, 625, "60", 26);

// ---- D
const dBox = { xMin: -.612, xMax: 19.69 };
const isHdAlt = function (i) { return i % 2 === 0; };
barPanel({ l: 84, t: 581, r: 648, b: 669 }, { l: 60, t: 16, r: 5, b: 8 }, {
  means: dMeans, hi: dHi, lo: dLo, pts: dPts, isHd: isHdAlt, xMin: dBox.xMin, xMax: dBox.xMax, hideX: true,
  yMin: 30, yMax: 80, yStep: 10, barW: 17, ptR: 6.4, capW: 6,
  tickColor: function (c) { return [30, 40, 60, 80].indexOf(c.tick.value) >= 0 ? "#111" : "rgba(0,0,0,0)"; },
  fmt: function (v) { return [40, 60, 80].indexOf(v) >= 0 ? v : ""; }
});
barPanel({ l: 84, t: 682, r: 648, b: 981 }, { l: 60, t: 12, r: 5, b: 16 }, {
  means: dMeans, hi: dHi, lo: dLo, pts: dPts, isHd: isHdAlt, xMin: dBox.xMin, xMax: dBox.xMax,
  yMin: 0, yMax: 30, yStep: 10, barW: 17, ptR: 6.4, capW: 6
});
T(19, 784, "Frequency of each population [%]", 26, { a: "c", rot: -90 });
[[86, 138], [143, 194.5], [200, 252], [256, 308], [313.5, 365], [367, 419], [424, 475.6], [479, 531], [536, 587], [590, 642]].forEach(function (g, i) {
  rect(g[0], 993, g[1] - g[0], 2, "#222");
  sq((g[0] + g[1]) / 2, 1019, 26, 25, SQ[dSquares[i]], 3.5);
});

// ---- E
function traj(list, color, w, rot, size) {
  const radii = list.map(function (p, i) { return i === list.length - 1 ? size : 0; });
  return { type: "scatter", data: xy(list), showLine: true, tension: .45, borderColor: color, borderWidth: w, pointStyle: "triangle", pointRadius: radii, pointRotation: rot, pointBackgroundColor: color, pointBorderWidth: 0, clip: false };
}
const eStarts = dots(trajStarts, "#000", [5, 6.5, 2.5, 2.5]);
addChart({ l: 680, t: 557, r: 940, b: 1038 }, { l: 2, t: 2, r: 2, b: 2 }, {
  type: "scatter",
  data: { datasets: [eStarts].concat([
    traj(trajYellow, "#f5e12e", 5, 175, 8), traj(trajOrange, "#ef8f5c", 4, 0, 7), traj(trajNavy, "#24246e", 5, 0, 8),
    traj(trajPurple, "#7b2d9e", 4, 30, 0), traj(trajCoral2, "#e0606a", 4, 215, 8), traj(trajOrange2, "#f4a261", 4, 130, 0),
    traj(trajMagenta, "#b5388f", 3.5, 340, 8), traj(trajCoral, "#e0606a", 4, 180, 8)
  ]).concat(umapIpex()) },
  options: { scales: {
    x: { type: "linear", min: -10.15, max: 6.65, border: axisLine({ width: 2 }), grid: { display: false }, ticks: { display: false } },
    y: { type: "linear", min: -5.53, max: 5.74, border: axisLine({ width: 2 }), grid: { display: false }, ticks: { display: false } }
  } }
});
T(816, 561, "Clonal overlap", 26, { a: "c" });
T(942, 704, "Proportion of", 26);
T(942, 735, "clones from", 26);
T(942, 767, "starting node", 26);
rect(957, 794, 21, 103, "linear-gradient(#f9e531,#f5a04a 30%,#e0606a 52%,#a83c96 70%,#6a2a9a 85%,#24246e)");
T(984, 813, "3*10<sup>-3</sup>", 26);
T(984, 848, "1*10<sup>-3</sup>", 26);
T(984, 885, "3*10<sup>-4</sup>", 26);

// ---- F
const gridC = "#ececec";
addChart({ l: 88, t: 1075, r: 779, b: 1419 }, { l: 60, t: 16, r: 8, b: 30 }, {
  type: "scatter",
  data: { datasets: [
    { type: "scatter", data: segs(vConnectors), showLine: true, borderColor: "#111", borderWidth: 3, pointRadius: 0, clip: false },
    dots(vRed, "#ee1f2b", 5.5),
    dots(vGreen, "#3a9a4a", 5),
    area(vRedArea, "#ee1f2b", 4),
    dots(vGrayDots, "#555", 5),
    area(vGray, "#555555", 3),
    dots(vBlue, "#4a68b4", 5.5),
    area(vBlueRight, "#4a68b4", 3),
    area(vBlueLeft, "#4a68b4", 3),
    { type: "scatter", data: xy([[-.5, -9.3], [-.5, 201]]), showLine: true, borderColor: "#222", borderWidth: 1.2, borderDash: [5, 4], pointRadius: 0 },
    { type: "scatter", data: xy([[.5, -9.3], [.5, 201]]), showLine: true, borderColor: "#222", borderWidth: 1.2, borderDash: [5, 4], pointRadius: 0 },
    { type: "scatter", data: xy([[-2.2, 4], [2.2, 4]]), showLine: true, borderColor: "#222", borderWidth: 1.2, borderDash: [5, 4], pointRadius: 0 }
  ] },
  options: { scales: {
    x: { type: "linear", min: -2.2, max: 2.2, border: axisLine(), grid: { color: gridC, lineWidth: 2, tickLength: 6, tickWidth: 2, tickColor: function (c) { return Number.isInteger(c.tick.value) ? "#111" : "rgba(0,0,0,0)"; } }, ticks: { stepSize: .5, includeBounds: false, autoSkip: false, maxRotation: 0, padding: 0, font: { size: 27 }, callback: function (v) { return Number.isInteger(v) ? v : ""; } } },
    y: { type: "linear", min: -9.3, max: 201, border: axisLine(), grid: { color: gridC, lineWidth: 2, tickLength: 6, tickWidth: 2, tickColor: function (c) { return c.tick.value % 50 === 0 ? "#111" : "rgba(0,0,0,0)"; } }, ticks: { stepSize: 25, includeBounds: false, autoSkip: false, padding: 1, font: { size: 27 }, callback: function (v) { return v === 0 ? "0.0" : (v % 50 === 0 ? v : ""); } } }
  } }
});
sq(138, 1096, 25, 25, SQ.tm1);
T(171, 1096, "T<sub>reg</sub> memory 1", 26);
sq(562, 1096, 25, 25, SQ.tm2);
T(593, 1096, "T<sub>reg</sub> memory 2", 26);
T(370, 1107, "-0.5", 24, { a: "c", rot: -90 });
T(496, 1103, "0.5", 24, { a: "c", rot: -90 });
T(730, 1384, "10e<sup>-5</sup>", 25);
T(18, 1248, "-Log<sub>10</sub>P", 26, { a: "c", rot: -90 });
T(416, 1458, "Log<sub>2</sub> fold change (Log<sub>2</sub>FC)", 26, { a: "c" });
[["HLA-DPB1", 109, 241, 1150, 1173], ["HLA-A", 300, 386, 1152, 1175], ["HPDG", 236, 310, 1182, 1205], ["IL32", 167, 221, 1218, 1242], ["ITGB1", 259, 336, 1280, 1304], ["IL10RA", 196, 284, 1311, 1335], ["IL2RA", 324, 399, 1311, 1335], ["FOXP3", 241, 324, 1341, 1365], ["IL7R", 375, 433, 1341, 1365], ["TNFRSF1B", 278, 409, 1372, 1395], ["AC004448.2", 94, 234, 1364, 1387], ["CD69", 431, 498, 1311, 1335], ["KLF6", 487, 553, 1280, 1304], ["TCF7", 560, 625, 1274, 1298], ["ZFP36L2", 539, 645, 1242, 1266], ["RNF19A", 633, 732, 1292, 1315], ["ITPKB", 566, 644, 1323, 1346], ["NFKBIA", 440, 537, 1356, 1380], ["PELI1", 622, 695, 1353, 1376], ["JUNB", 543, 614, 1372, 1395], ["TNFAIP3", 621, 725, 1393, 1416]].forEach(function (b) {
  const d = rect(b[1], b[3], b[2] - b[1], b[4] - b[3], "#fff");
  d.style.border = "1px solid #a8a8a8";
  d.style.borderRadius = "2px";
  T((b[1] + b[2]) / 2, (b[3] + b[4]) / 2 + 1, b[0], 23.5, { a: "c", style: "italic" });
});
[["#e0362c", "0.5&gt;Log<sub>2</sub>FCp&gt;10e<sup>-5</sup>"], ["#4a68b4", "0.5&lt;Log<sub>2</sub>FC, p&gt;10e<sup>-5</sup>"], ["#3f8f4f", "0.5&gt;Log<sub>2</sub>FC, p&lt;10e<sup>-5</sup>"], ["#555555", "n.s."]].forEach(function (l, i) {
  const y = 1136 + i * 41.7;
  circle(763, y, 28, l[0]);
  T(781, y, l[1], 26);
});

// ---- G
addChart({ l: 1189, t: 976, r: 1554, b: 1212 }, { l: 50, t: 15, r: 0, b: 8 }, {
  type: "scatter",
  data: { datasets: [
    { type: "scatter", data: esRank.map(function (r, i) { return { x: r, y: esValue[i] }; }), showLine: true, borderColor: "#f5a31c", borderWidth: 3, pointRadius: 0, clip: false },
    { type: "scatter", data: xy([[-13, -.013], [1022, -.013]]), showLine: true, borderColor: "#333", borderWidth: 1.2, pointRadius: 0 },
    { type: "scatter", data: segs(hitRanks.map(function (r) { return [r, -.062, r, .036]; })), showLine: true, borderColor: "rgba(60,60,60,.45)", borderWidth: 1.2, pointRadius: 0 },
    { type: "scatter", data: xy([[-13, .64], [1022, .64]]), showLine: true, borderColor: "#ef3b4c", borderWidth: 1.2, borderDash: [4, 3], pointRadius: 0 },
    { type: "scatter", data: xy([[-13, -.15], [1022, -.15]]), showLine: true, borderColor: "#ef3b4c", borderWidth: 1.2, borderDash: [4, 3], pointRadius: 0 }
  ] },
  options: { scales: {
    x: { type: "linear", min: -10, max: 1022, border: { display: false }, grid: { color: "#eeeeee", drawTicks: false }, ticks: { display: false, stepSize: 228 } },
    y: { type: "linear", min: -.16, max: .66, border: { display: false }, grid: { color: "#f0f0f0", tickLength: 15, tickColor: "#111", tickWidth: 1.5 }, ticks: { stepSize: .2, includeBounds: false, padding: 2, font: { size: 25 }, callback: function (v) { return v.toFixed(1); } } }
  } }
});
rect(1177, 981, 12, 1.3, "#ef3b4c");
rect(1177, 1208, 12, 1.3, "#ef3b4c");
addChart({ l: 1182, t: 1212, r: 1554, b: 1375 }, { l: 50, t: 15, r: 0, b: 15 }, {
  type: "scatter",
  data: { datasets: [
    { type: "line", data: fcUpRank.map(function (r, i) { return { x: r, y: fcUp[i] }; }), borderWidth: 0, borderColor: "#ee4b55", backgroundColor: "#ee4b55", fill: "origin", pointRadius: 0 },
    { type: "line", data: fcDownRank.map(function (r, i) { return { x: r, y: fcDown[i] }; }), borderWidth: 0, borderColor: "#3b4ba3", backgroundColor: "#3b4ba3", fill: "origin", pointRadius: 0 }
  ] },
  options: { scales: {
    x: { type: "linear", min: -34, max: 1022, border: { display: false }, grid: { display: false }, ticks: { display: false } },
    y: { type: "linear", min: -2.02, max: 1.28, border: axisLine({ width: 1.5 }), grid: { drawOnChartArea: false, tickLength: 7, tickColor: "#111", tickWidth: 1.5 }, ticks: { stepSize: 1, includeBounds: false, padding: 2, font: { size: 25 }, callback: function (v) { return v; } } }
  } }
});
T(1345, 882, "Pathway enrichment", 26, { a: "c" });
T(1344, 915, "T<sub>reg</sub> memory 2 vs.T<sub>reg</sub> memory 1", 26, { a: "c" });
T(1163, 961, "TNF-&alpha; signaling", 26);
T(1364, 1000, "NES=1.84", 26);
T(1364, 1032, "pval=8.1*10<sup>-9</sup>", 26);
T(1364, 1063, "padj=2.0*10<sup>-7</sup>", 26);
T(1363, 1360, "Rank", 26, { a: "c" });
T(1110, 1077, "Enrichment score", 26, { a: "c", rot: -90 });
T(1110, 1304, "Log<sub>2</sub>FC", 26, { a: "c", rot: -90 });
T(1154, 1392, "-", 20);

// ---- H
const C_RED = "#cf1f26", C_ORG = "#f5bc6a", C_MAG = "#c9187f", C_PUR = "#aeaad4", C_GRY = "#cfcfcf";
function hScales(xMax, showY) {
  return {
    x: { type: "linear", min: 0, max: xMax, border: axisLine({ width: 1.5 }), grid: { drawOnChartArea: false, tickLength: 3, tickColor: "#111", tickWidth: 1.5 }, ticks: { stepSize: .5, includeBounds: false, autoSkip: false, maxRotation: 0, padding: 1, font: { size: 25 }, callback: function (v) { return v.toFixed(1); } } },
    y: { type: "linear", min: -.23, max: 3.02, border: axisLine({ width: 1.5 }), grid: { drawOnChartArea: false, tickLength: 3, tickColor: "#111", tickWidth: 1.5 }, ticks: { stepSize: 1, includeBounds: false, padding: 1, font: { size: 25 }, callback: function (v) { return showY ? v : ""; } } }
  };
}
addChart({ l: 110.5, t: 1521, r: 357.7, b: 1805 }, { l: 22, t: 15, r: 8, b: 32 }, {
  type: "scatter",
  data: { datasets: [
    dots(hLeftMagenta, C_MAG, 2.8), dots(hLeftRed, C_RED, 3), dots(hLeftOrange, C_ORG, 3),
    area(hLeftOrangeCore, C_ORG, 3), dots(hLeftGray, C_GRY, 2.8), dots(hLeftPurpleDots, C_PUR, 2.8), area(hLeftPurple, C_PUR, 3)
  ] },
  options: { scales: hScales(2.47, true) }
});
addChart({ l: 366.5, t: 1521, r: 612, b: 1805 }, { l: 25, t: 15, r: 8, b: 32 }, {
  type: "scatter",
  data: { datasets: [
    dots(hRightMagenta, C_MAG, 2.8), area(hRightMagentaArea, C_MAG, 2.5), dots(hRightRed, C_RED, 3), area(hRightRedArea, C_RED, 3), dots(hRightOrange, C_ORG, 3), area(hRightOrangeArea, C_ORG, 3),
    dots(hRightGray, C_GRY, 2.8), area(hRightGrayArea, C_GRY, 2.5), dots(hRightPurpleDots, C_PUR, 2.8), area(hRightPurple, C_PUR, 3)
  ] },
  options: { scales: hScales(2.455, false) }
});
T(212, 1527, "HD", 26, { a: "c" });
T(481, 1527, "IPEX", 26, { a: "c" });
T(60.6, 1678, "CD25 [ADT]", 26, { a: "c", rot: -90 });
T(353, 1858, "CD127 antibody derived tag [ADT]", 26, { a: "c" });
const svgNS = "http://www.w3.org/2000/svg";
const arrows = document.createElementNS(svgNS, "svg");
arrows.setAttribute("width", "1554");
arrows.setAttribute("height", "2100");
arrows.style.cssText = "position:absolute;left:0;top:0;z-index:3;pointer-events:none";
arrows.innerHTML = '<line x1="82" y1="1805" x2="82" y2="1530" stroke="#111" stroke-width="2"/><polygon points="82,1520 75,1536 89,1536" fill="#111"/><line x1="109" y1="1843" x2="600" y2="1843" stroke="#111" stroke-width="2"/><polygon points="611,1843 596,1836 596,1850" fill="#111"/>';
page.appendChild(arrows);
[[17.5, 1928, "#c0392b", 34, "<i>FOXP3</i><sup>+</sup>CD25<sup>high</sup>CD127<sup>low</sup>"], [386, 1928, "#f5bc6a", 402, "<i>FOXP3</i><sup>-</sup>CD25<sup>high</sup>CD127<sup>low</sup>"], [17.5, 1971, "#bb2d8f", 34, "<i>FOXP3</i><sup>+</sup>CD25<sup>low</sup>CD127<sup>low/high</sup>"], [386, 1970, "#5b7bbd", 402, "<i>FOXP3</i><sup>-</sup>CD25<sup>low</sup>CD127<sup>low/high</sup>"], [267.5, 2009, "#cfcfcf", 284, "<i>Not defined</i>"]].forEach(function (l) {
  circle(l[0], l[1], 28, l[2]);
  T(l[3], l[1], l[4], 26);
});
T(368, 2050, "adt: CD25 and CD127 [ADT]", 26, { a: "c" });
T(372, 2082, "mRNA-seq: <i>FOXP3</i> (mRNA detection by sequencing)", 26, { a: "c" });

// ---- I and J
const isHdFour = function (i) { return i < 4; };
barPanel({ l: 837.6, t: 1560, r: 1148.6, b: 1905 }, { l: 56, t: 16, r: 5, b: 16 }, {
  means: iMeans, hi: iHi, lo: iLo, pts: iPts, isHd: isHdFour, xMin: -.666, xMax: 7.65,
  yMin: 0, yMax: 80, yStep: 20, barW: 24, ptR: 6, capW: 6
});
barPanel({ l: 1239.5, t: 1560, r: 1550, b: 1905 }, { l: 56, t: 16, r: 4, b: 16 }, {
  means: jMeans, hi: jHi, lo: jLo, pts: jPts, isHd: isHdFour, xMin: -.652, xMax: 7.65,
  yMin: 0, yMax: 80, yStep: 20, barW: 24, ptR: 6, capW: 6
});
function titleBlock(cx, circleX, colour, third) {
  circle(circleX, 1440, 28, colour);
  T(cx, 1467, "Contribution of each", 26, { a: "c" });
  T(cx, 1498, "population to the", 26, { a: "c" });
  T(cx, 1530, third, 26, { a: "c" });
  T(cx, 1562, "cells", 26, { a: "c" });
}
titleBlock(1005, 1000, "#c0392b", "<i>FOXP3</i><sup>+</sup> CD25<sup>high</sup>CD127<sup>low</sup>");
titleBlock(1384, 1372, "#bb2d8f", "<i>FOXP3</i><sup>+</sup> CD25<sup>low</sup>CD127<sup>low/high</sup>");
T(775, 1741, "[%]", 26, { a: "c", rot: -90 });
T(1181, 1738, "[%]", 26, { a: "c", rot: -90 });
sq(975.5, 1628, 25, 25, C_HD);
sq(975.5, 1665, 25, 25, C_IPEX);
T(1001, 1628, "HD", 26);
T(1001, 1665, "IPEX", 26);
const ijLabels = ["<i>T<sub>reg</sub></i> memory 1", "<i>T<sub>reg</sub></i> naive", "<i>T<sub>reg</sub></i> memory 2", "Other clusters", "<i>T<sub>reg</sub></i> memory 1", "<i>T<sub>reg</sub></i> naive", "<i>T<sub>reg</sub></i> memory 2", "Other clusters"];
const iBarPos = [862.5, 899.9, 937.3, 974.7, 1012, 1049.5, 1086.8, 1124.2];
const jBarPos = [1263.9, 1301.3, 1338.7, 1376.5, 1413.4, 1450.8, 1488.2, 1525.6];
const iLabelEnd = [865, 901, 942, 984, 1020, 1057, 1098, 1140];
const jLabelEnd = [1262, 1301, 1342, 1384, 1420, 1459, 1498, 1537];
ijSquares.forEach(function (k, i) {
  sq(iBarPos[i], 1926, 25, 25, SQ[k], 3.5);
  sq(jBarPos[i], 1925, 25, 26, SQ[k], 3.5);
  T(iLabelEnd[i], 1950, ijLabels[i], 26.5, { a: "r", rot: -59, origin: "100% 50%" });
  T(jLabelEnd[i], 1950, ijLabels[i], 26.5, { a: "r", rot: -59, origin: "100% 50%" });
});
</script>
</body>
</html>
